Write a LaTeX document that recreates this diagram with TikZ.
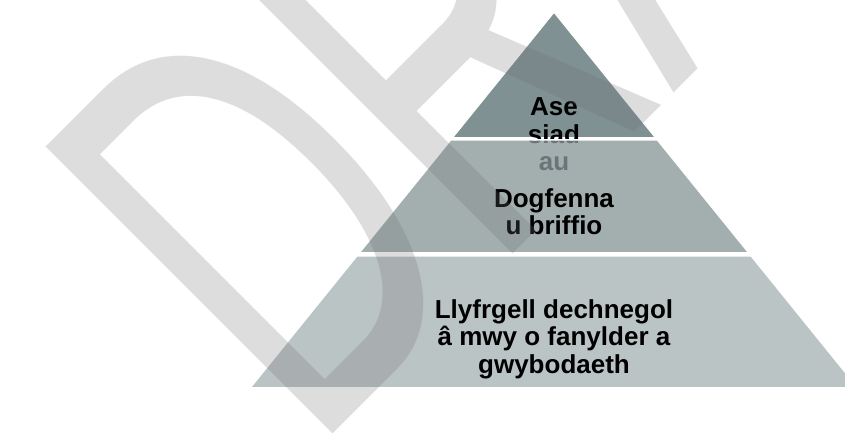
\documentclass[tikz,border=0pt]{standalone}
\usepackage{fontspec}
\setmainfont{Liberation Sans}
\usetikzlibrary{positioning}
\definecolor{tiertop}{RGB}{91,114,117}
\definecolor{tiermid}{RGB}{137,151,153}
\definecolor{tierlow}{RGB}{168,179,181}
\definecolor{wmgray}{RGB}{110,110,110}
\begin{document}
\begin{tikzpicture}[
  x=1pt,y=1pt,
  tier/.style={fill opacity=0.78,draw=white,line width=1.5pt},
  tiertext/.style={align=center,inner sep=0pt,text=black,
                   font=\bfseries\fontsize{26}{27.5}\selectfont},
  wmark/.style={anchor=base west,rotate=45,xscale=0.6,inner sep=0pt,
                text=wmgray,text opacity=0.23,font=\fontsize{590}{590}\selectfont}
]
\useasboundingbox (0,0) rectangle (845,441);
% pyramid corners
\coordinate (apex) at (554,429);
\coordinate (t1) at (452.1,303);
\coordinate (t2) at (655.9,303);
\coordinate (m1) at (450.5,301);
\coordinate (m2) at (657.5,301);
\coordinate (m3) at (748.9,188);
\coordinate (m4) at (359.1,188);
\coordinate (b1) at (356.7,185);
\coordinate (b2) at (751.3,185);
\coordinate (b3) at (858,53);
\coordinate (b4) at (250,53);
% tiers, top first
\draw[tier,fill=tiertop] (apex)--(t2)--(t1)--cycle;
\node[tiertext] (asesu) at (554,306.5) {Ase\\siad\\au};
\draw[tier,fill=tiermid] (m1)--(m2)--(m3)--(m4)--cycle;
\node[tiertext] (dogfen) at (554,229.5) {Dogfenna\\u briffio};
\draw[tier,fill=tierlow] (b1)--(b2)--(b3)--(b4)--cycle;
\node[tiertext] (llyfr) at (554,102) {Llyfrgell dechnegol\\â mwy o fanylder a\\gwybodaeth};
% watermark
\node[wmark] (draft) at (312,-14) {DRAFT};
\end{tikzpicture}
\end{document}
